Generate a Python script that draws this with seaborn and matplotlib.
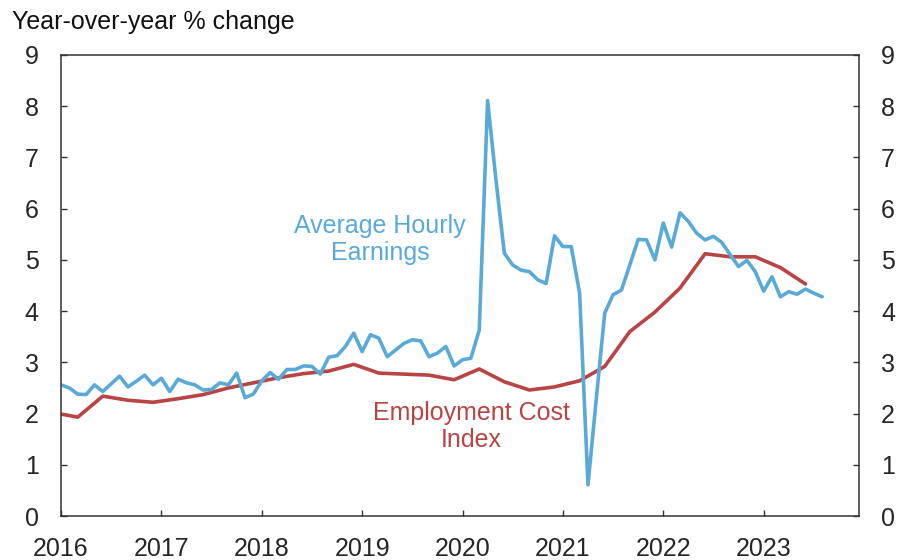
import matplotlib
matplotlib.use("Agg")
import matplotlib.pyplot as plt
import seaborn as sns
import pandas as pd

# Average hourly earnings, monthly, Jan 2016 - Aug 2023 (y/y % change)
ahe = [2.56, 2.50, 2.38, 2.37, 2.56, 2.43, 2.58, 2.73, 2.52, 2.63, 2.75, 2.56,
       2.69, 2.43, 2.67, 2.60, 2.56, 2.46, 2.47, 2.60, 2.56, 2.79, 2.31, 2.38,
       2.64, 2.80, 2.67, 2.86, 2.86, 2.93, 2.92, 2.77, 3.10, 3.13, 3.31, 3.57,
       3.21, 3.54, 3.47, 3.11, 3.24, 3.37, 3.44, 3.42, 3.11, 3.18, 3.31, 2.93,
       3.05, 3.08, 3.63, 8.11, 6.56, 5.13, 4.90, 4.80, 4.77, 4.61, 4.54, 5.47,
       5.26, 5.26, 4.35, 0.61, 2.30, 3.96, 4.32, 4.41, 4.90, 5.40, 5.39, 5.00,
       5.72, 5.25, 5.92, 5.75, 5.52, 5.39, 5.46, 5.34, 5.10, 4.87, 4.99, 4.77,
       4.39, 4.67, 4.28, 4.38, 4.33, 4.43, 4.35, 4.28]

# Employment cost index, quarterly (plotted at quarter's last month), Dec 2015 - Jun 2023
eci = [2.02, 1.93, 2.34, 2.26, 2.22, 2.29, 2.37, 2.50, 2.60, 2.70, 2.78, 2.83,
       2.96, 2.79, 2.77, 2.75, 2.66, 2.87, 2.62, 2.46, 2.52, 2.64, 2.92, 3.60,
       3.98, 4.45, 5.12, 5.06, 5.06, 4.85, 4.53]

years = list(range(2016, 2024))
y_ticks = list(range(0, 10))

ahe_dates = pd.date_range("2016-01-01", periods=len(ahe), freq="MS")
eci_dates = pd.date_range("2015-12-01", periods=len(eci), freq="3MS")


def dec_year(d):
    return d.year + (d.month - 1) / 12


df_ahe = pd.DataFrame({"x": dec_year(ahe_dates), "y": ahe})
df_eci = pd.DataFrame({"x": dec_year(eci_dates), "y": eci})

blue = "#5aaad8"
red = "#b84443"
axis_col = "#333333"

sns.set_style("white")
plt.rcParams["font.family"] = ["Liberation Sans", "DejaVu Sans"]

fig = plt.figure(figsize=(8.97, 5.6), dpi=100)
ax = fig.add_axes([61 / 897, 1 - 516 / 560, (859 - 61) / 897, (516 - 55) / 560])

sns.lineplot(data=df_eci, x="x", y="y", color=red, linewidth=2.6, ax=ax)
sns.lineplot(data=df_ahe, x="x", y="y", color=blue, linewidth=2.6, ax=ax)

ax.set_xlim(2016, 2023.95)
ax.set_ylim(0, 9)
ax.set_xticks(years)
ax.set_xticklabels([str(y) for y in years])
ax.set_yticks(y_ticks)
ax.set_xlabel("")
ax.set_ylabel("")

for s in ax.spines.values():
    s.set_visible(True)
    s.set_color(axis_col)
    s.set_linewidth(1.1)

ax.tick_params(axis="y", which="both", direction="in", left=True, right=True,
               labelleft=True, labelright=True, length=4, width=1,
               color=axis_col, labelsize=18, pad=16)
ax.tick_params(axis="x", direction="in", bottom=True, top=False, length=4,
               width=1, color=axis_col, labelsize=18, pad=15)

ax.text(2019.18, 5.40, "Average Hourly\nEarnings", color=blue, fontsize=18,
        ha="center", va="center", linespacing=1.15)
ax.text(2020.09, 1.74, "Employment Cost\nIndex", color=red, fontsize=18,
        ha="center", va="center", linespacing=1.15)

fig.text(12 / 897, 1 - 29 / 560, "Year-over-year % change", fontsize=18,
         ha="left", va="baseline", color="#111111")

fig.savefig("out.png", dpi=100)
